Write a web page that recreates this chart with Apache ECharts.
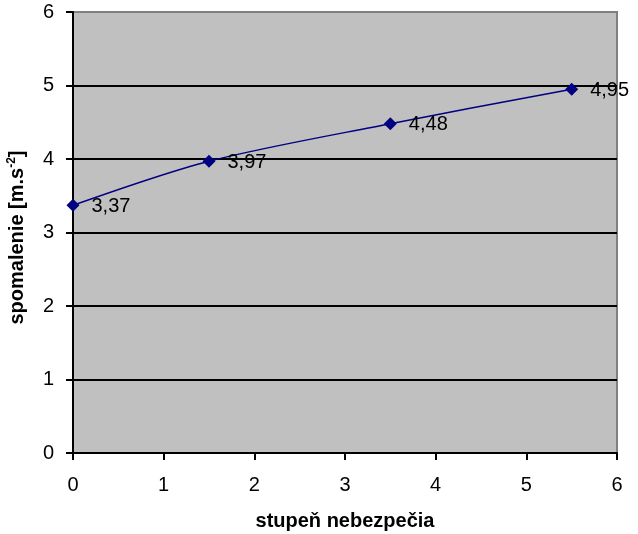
<!DOCTYPE html>
<html><head><meta charset="utf-8">
<script src="https://cdn.jsdelivr.net/npm/echarts@6/dist/echarts.min.js"></script>
<style>html,body{margin:0;padding:0;background:#fff}#c{width:638px;height:534px}</style>
</head><body><div id="c"></div>
<script>
const xValues = [0, 1.5, 3.5, 5.5];
const yValues = [3.37, 3.97, 4.48, 4.95];
const yLabels = ['3,37', '3,97', '4,48', '4,95'];
const xTitle = 'stupeň nebezpečia';

const chart = echarts.init(document.getElementById('c'));
const font = 'Liberation Sans, Arial, sans-serif';
chart.setOption({
  animation: false,
  backgroundColor: '#fff',
  grid: { left: 73, right: 21, top: 12, bottom: 81, containLabel: false, outerBoundsMode: 'none',
    show: true, backgroundColor: '#C0C0C0', borderColor: '#808080', borderWidth: 2 },
  xAxis: {
    type: 'value', min: 0, max: 6, interval: 1,
    name: xTitle, nameLocation: 'middle', nameGap: 58,
    nameTextStyle: { fontFamily: font, fontSize: 20, fontWeight: 'bold', color: '#000' },
    axisLine: { lineStyle: { color: '#000', width: 2 } },
    axisTick: { show: true, length: 7, lineStyle: { color: '#000', width: 2 } },
    axisLabel: { fontFamily: font, fontSize: 20, color: '#000', margin: 22 },
    splitLine: { show: false }
  },
  yAxis: {
    type: 'value', min: 0, max: 6, interval: 1,
    name: '{n|spomalenie [m.s}{s|-2}{n|]}', nameLocation: 'middle', nameGap: 45,
    nameTextStyle: { padding: [0, 10, 0, 0], rich: {
      n: { fontFamily: font, fontSize: 20, fontWeight: 'bold', color: '#000' },
      s: { fontFamily: font, fontSize: 12, fontWeight: 'bold', color: '#000', verticalAlign: 'top', padding: [0,0,10,0] }
    } },
    axisLine: { show: true, lineStyle: { color: '#000', width: 2 } },
    axisTick: { show: true, length: 7, lineStyle: { color: '#000', width: 2 } },
    axisLabel: { fontFamily: font, fontSize: 20, color: '#000', margin: 19 },
    splitLine: { show: true, showMaxLine: false, lineStyle: { color: '#000', width: 2 } }
  },
  series: [{
    type: 'line',
    data: xValues.map((x, i) => [x, yValues[i]]),
    smooth: 0.3,
    symbol: 'diamond', symbolSize: 13,
    lineStyle: { color: '#000080', width: 1.5 },
    itemStyle: { color: '#000080' },
    label: { show: true, position: 'right', distance: 12, offset: [0, 1],
      fontFamily: font, fontSize: 20, color: '#000',
      formatter: p => yLabels[p.dataIndex] }
  }]
});
</script></body></html>
